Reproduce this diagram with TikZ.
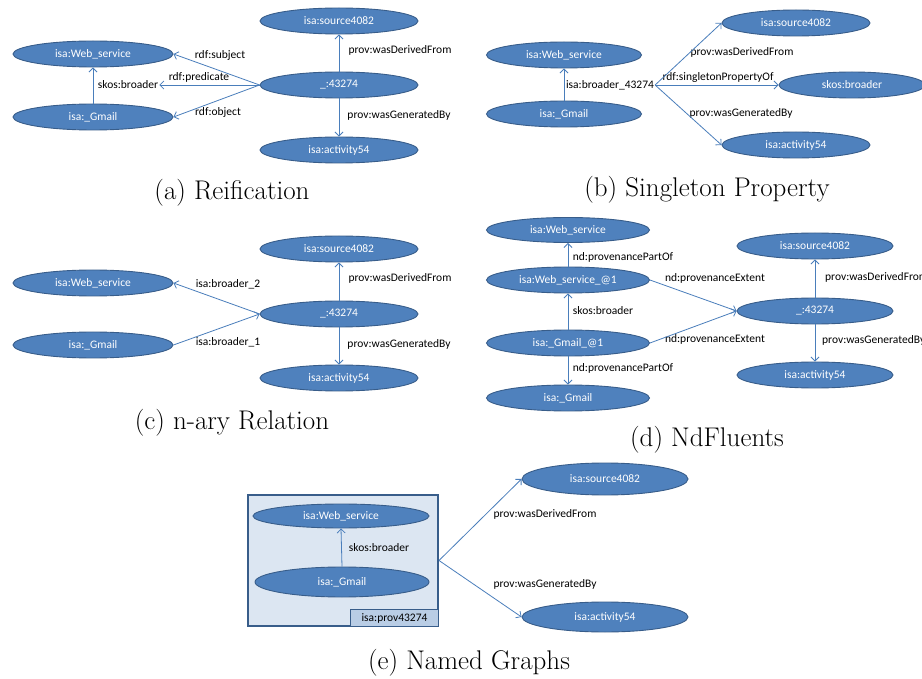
\documentclass[tikz,border=0pt]{standalone}
\usepackage{fontspec}
\newfontfamily\labfont{Carlito}
\usetikzlibrary{shapes.geometric,arrows.meta}
\definecolor{ellfill}{HTML}{4F81BD}
\definecolor{elldraw}{HTML}{385D8A}
\definecolor{edgecol}{HTML}{4A7EBB}
\definecolor{boxfill}{HTML}{DCE6F2}
\definecolor{tabfill}{HTML}{B9CDE5}
\begin{document}
\begin{tikzpicture}[x=1pt,y=-1pt,
 ell/.style={ellipse, fill=ellfill, draw=elldraw, line width=0.9pt, minimum width=160pt, minimum height=26pt, inner sep=0pt, text=white, font=\labfont\fontsize{11.5}{13}\selectfont},
 lbl/.style={font=\labfont\fontsize{11.5}{13}\selectfont, inner sep=1pt, text=black},
 arr/.style={draw=edgecol, line width=0.8pt, -{Straight Barb[length=4pt,width=8pt]}},
 captxt/.style={font=\fontsize{27}{31}\selectfont, inner sep=0pt}]
\fill[white] (0,0) rectangle (922,679);
\useasboundingbox (0,0) rectangle (922,679);
% (a)
\node[ell] (aweb) at (93,54) {isa:Web\_service};
\node[ell] (agm) at (93,117) {isa:\_Gmail};
\node[ell, minimum width=158pt] (asrc) at (339,21) {isa:source4082};
\node[ell, minimum width=158pt] (aid) at (339,85) {\_:43274};
\node[ell, minimum width=158pt] (aact) at (339,150) {isa:activity54};
\node[lbl] (askos) at (128,85) {skos:broader};
\node[lbl] (asubj) at (220,55) {rdf:subject};
\node[lbl] (apred) at (199,77) {rdf:predicate};
\node[lbl] (aobj) at (218,112) {rdf:object};
\node[lbl] (ader) at (400,50) {prov:wasDerivedFrom};
\node[lbl] (agen) at (399,115) {prov:wasGeneratedBy};
\node[captxt] (capa) at (232,193) {(a) Reification};
\draw[arr] (agm.north) -- (aweb.south);
\draw[arr] (aid.west) -- (aweb.east);
\draw[arr] (aid.west) -- (askos.east);
\draw[arr] (aid.west) -- (agm.east);
\draw[arr] (aid.north) -- (asrc.south);
\draw[arr] (aid.south) -- (aact.north);
% (b)
\node[ell, minimum width=155pt] (bweb) at (564,55) {isa:Web\_service};
\node[ell, minimum width=155pt] (bgm) at (564,114) {isa:\_Gmail};
\node[ell, minimum width=148pt] (bsrc) at (796,23) {isa:source4082};
\node[ell, minimum width=146pt] (bskos) at (852,85) {skos:broader};
\node[ell, minimum width=148pt] (bact) at (796,145) {isa:activity54};
\node[lbl] (bbro) at (610,85) {isa:broader\_43274};
\node[lbl] (bder) at (742,52) {prov:wasDerivedFrom};
\node[lbl] (bsing) at (718,77) {rdf:singletonPropertyOf};
\node[lbl] (bgen) at (741,113) {prov:wasGeneratedBy};
\node[captxt] (capb) at (707,190) {(b) Singleton Property};
\draw[arr] (bgm.north) -- (bweb.south);
\draw[arr] (bbro.east) -- (bsrc.west);
\draw[arr] (bbro.east) -- (bskos.west);
\draw[arr] (bbro.east) -- (bact.west);
% (c)
\node[ell] (cweb) at (93,283) {isa:Web\_service};
\node[ell] (cgm) at (93,345) {isa:\_Gmail};
\node[ell, minimum width=158pt] (csrc) at (339,249) {isa:source4082};
\node[ell, minimum width=158pt] (cid) at (339,314) {\_:43274};
\node[ell, minimum width=158pt] (cact) at (339,378) {isa:activity54};
\node[lbl] (cb2) at (228,284) {isa:broader\_2};
\node[lbl] (cb1) at (228,342) {isa:broader\_1};
\node[lbl] (cder) at (400,278) {prov:wasDerivedFrom};
\node[lbl] (cgen) at (399,344) {prov:wasGeneratedBy};
\node[captxt] (capc) at (232,423) {(c) n-ary Relation};
\draw[arr] (cid.west) -- (cweb.east);
\draw[arr] (cgm.east) -- (cid.west);
\draw[arr] (cid.north) -- (csrc.south);
\draw[arr] (cid.south) -- (cact.north);
% (d)
\node[ell, minimum width=163pt, minimum height=25pt] (dweb) at (568,230) {isa:Web\_service};
\node[ell, minimum width=163pt] (dwat) at (568,280) {isa:Web\_service\_@1};
\node[ell, minimum width=163pt] (dgat) at (568,343) {isa:\_Gmail\_@1};
\node[ell, minimum width=163pt] (dgm) at (568,398) {isa:\_Gmail};
\node[ell, minimum width=156pt] (dsrc) at (815,246) {isa:source4082};
\node[ell, minimum width=156pt] (did) at (815,311) {\_:43274};
\node[ell, minimum width=156pt] (dact) at (815,375) {isa:activity54};
\node[lbl] (dpp1) at (623,257) {nd:provenancePartOf};
\node[lbl] (dsk) at (603,311) {skos:broader};
\node[lbl] (dpp2) at (623,368) {nd:provenancePartOf};
\node[lbl] (dpe1) at (715,278) {nd:provenanceExtent};
\node[lbl] (dpe2) at (715,339) {nd:provenanceExtent};
\node[lbl, anchor=west] (dder) at (824,277) {prov:wasDerivedFrom};
\node[lbl, anchor=west] (dgen) at (821,340) {prov:wasGeneratedBy};
\node[captxt] (capd) at (707,440) {(d) NdFluents};
\draw[arr] (dwat.north) -- (dweb.south);
\draw[arr] (dgat.north) -- (dwat.south);
\draw[arr] (dgat.south) -- (dgm.north);
\draw[arr] (dwat.east) -- (did.west);
\draw[arr] (dgat.east) -- (did.west);
\draw[arr] (did.north) -- (dsrc.south);
\draw[arr] (did.south) -- (dact.north);
% (e)
\node[draw=elldraw, fill=boxfill, line width=2pt, minimum width=190pt, minimum height=131pt, inner sep=0pt] (ebox) at (343,560.5) {};
\node[draw=elldraw, fill=tabfill, line width=1pt, minimum width=88pt, minimum height=17pt, inner sep=0pt, anchor=south east, font=\labfont\fontsize{11.5}{13}\selectfont] (etab) at (ebox.south east) {isa:prov43274};
\node[ell, minimum width=176pt, minimum height=24pt] (eweb) at (341,516) {isa:Web\_service};
\node[ell, minimum width=174pt, minimum height=30pt] (egm) at (342,582) {isa:\_Gmail};
\node[ell, minimum width=166pt, minimum height=32pt] (esrc) at (605,479) {isa:source4082};
\node[ell, minimum width=166pt, minimum height=30pt] (eact) at (605,617) {isa:activity54};
\node[lbl] (esk) at (379,548) {skos:broader};
\node[lbl] (eder) at (545,514) {prov:wasDerivedFrom};
\node[lbl] (egen) at (545,584) {prov:wasGeneratedBy};
\node[captxt] (cape) at (469,663) {(e) Named Graphs};
\draw[arr] (egm.north) -- (eweb.south);
\draw[arr] (ebox.east) -- (esrc.west);
\draw[arr] (ebox.east) -- (eact.west);
\end{tikzpicture}
\end{document}
